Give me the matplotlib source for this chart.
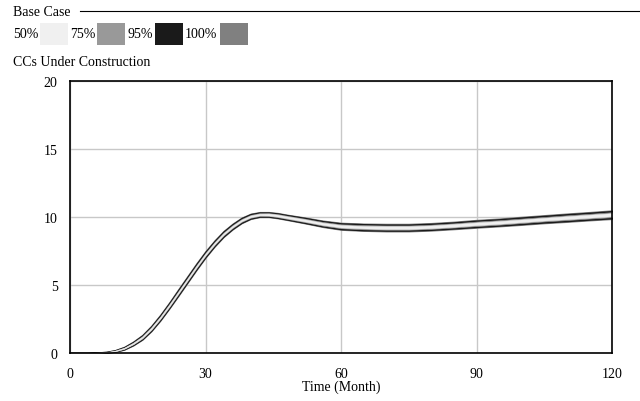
import matplotlib
matplotlib.use("Agg")
import matplotlib.pyplot as plt
from matplotlib.patches import Rectangle
from matplotlib.lines import Line2D

plt.rcParams['font.family'] = ['Liberation Serif', 'DejaVu Serif']

# Sensitivity run: CCs Under Construction, confidence bands
months = [0, 4, 8, 10, 12, 14, 16, 18, 20, 22, 24, 26, 28, 30, 32, 34, 36, 38, 40,
          42, 44, 46, 48, 52, 56, 60, 65, 70, 75, 80, 85, 90, 95, 100, 105, 110, 115, 120]

lo100 = [0, 0, 0.03, 0.08, 0.24, 0.55, 0.97, 1.59, 2.37, 3.26, 4.19, 5.14, 6.09, 7.00, 7.81,
         8.52, 9.08, 9.54, 9.85, 9.99, 9.99, 9.90, 9.78, 9.53, 9.26, 9.06, 8.98, 8.94, 8.94,
         9.00, 9.10, 9.21, 9.31, 9.42, 9.54, 9.64, 9.75, 9.85]
hi100 = [0, 0, 0.09, 0.22, 0.46, 0.85, 1.33, 2.01, 2.83, 3.74, 4.71, 5.66, 6.61, 7.50, 8.29,
         8.98, 9.52, 9.96, 10.25, 10.37, 10.37, 10.30, 10.18, 9.97, 9.74, 9.58, 9.52, 9.50,
         9.50, 9.56, 9.66, 9.79, 9.89, 10.02, 10.14, 10.26, 10.37, 10.49]
lo95 = [0, 0, 0.03, 0.10, 0.27, 0.59, 1.01, 1.64, 2.43, 3.32, 4.26, 5.21, 6.16, 7.06, 7.87,
        8.57, 9.13, 9.58, 9.89, 10.03, 10.03, 9.94, 9.82, 9.57, 9.31, 9.11, 9.03, 9.00, 9.00,
        9.06, 9.16, 9.27, 9.37, 9.48, 9.60, 9.70, 9.81, 9.91]
hi95 = [0, 0, 0.08, 0.20, 0.43, 0.81, 1.29, 1.96, 2.77, 3.68, 4.64, 5.59, 6.54, 7.44, 8.23,
        8.93, 9.47, 9.92, 10.21, 10.33, 10.33, 10.26, 10.14, 9.93, 9.69, 9.53, 9.47, 9.44,
        9.44, 9.50, 9.60, 9.73, 9.83, 9.96, 10.08, 10.20, 10.31, 10.43]
lo75 = [0, 0, 0.04, 0.12, 0.31, 0.64, 1.07, 1.71, 2.51, 3.40, 4.35, 5.30, 6.25, 7.15, 7.95,
        8.65, 9.20, 9.65, 9.95, 10.08, 10.08, 9.99, 9.87, 9.63, 9.37, 9.18, 9.10, 9.07, 9.07,
        9.13, 9.23, 9.34, 9.44, 9.56, 9.68, 9.78, 9.89, 9.99]
hi75 = [0, 0, 0.06, 0.18, 0.39, 0.76, 1.23, 1.89, 2.69, 3.60, 4.55, 5.50, 6.45, 7.35, 8.15,
        8.85, 9.40, 9.85, 10.15, 10.28, 10.28, 10.21, 10.09, 9.87, 9.63, 9.46, 9.40, 9.37,
        9.37, 9.43, 9.53, 9.66, 9.76, 9.88, 10.00, 10.12, 10.23, 10.35]
lo50 = [0, 0, 0.04, 0.13, 0.32, 0.66, 1.10, 1.74, 2.54, 3.44, 4.39, 5.34, 6.29, 7.19, 7.99,
        8.69, 9.24, 9.69, 9.99, 10.12, 10.11, 10.03, 9.91, 9.67, 9.42, 9.23, 9.16, 9.12, 9.12,
        9.18, 9.28, 9.40, 9.50, 9.62, 9.74, 9.84, 9.95, 10.06]
hi50 = [0, 0, 0.06, 0.17, 0.38, 0.74, 1.20, 1.86, 2.66, 3.56, 4.51, 5.46, 6.41, 7.31, 8.11,
        8.81, 9.36, 9.81, 10.11, 10.24, 10.25, 10.17, 10.05, 9.83, 9.58, 9.41, 9.34, 9.32,
        9.32, 9.38, 9.48, 9.60, 9.70, 9.82, 9.94, 10.06, 10.17, 10.28]

band_labels = ['50%', '75%', '95%', '100%']
band_colors = ['#f0f0f0', '#999999', '#1a1a1a', '#808080']

fig = plt.figure(figsize=(6.4, 4.02), dpi=100)
ax = fig.add_axes([70 / 640, 1 - 354 / 402, 542 / 640, 272 / 402])

bands = [(lo100, hi100), (lo95, hi95), (lo75, hi75), (lo50, hi50)]
edge_w = [0.8, 1.0, 0.5, 0.3]
for (lo, hi), col, w in zip(bands, band_colors[::-1], edge_w):
    ax.fill_between(months, lo, hi, color=col, lw=w, edgecolor=col)

ax.set_xlim(0, 120)
ax.set_ylim(0, 20)
ax.set_xticks([0, 30, 60, 90, 120])
ax.set_yticks([0, 5, 10, 15, 20])
ax.grid(True, color='#c8c8c8', lw=1)
ax.set_axisbelow(True)
for s in ax.spines.values():
    s.set_linewidth(1.2)
    s.set_color('black')
ax.tick_params(length=0, labelsize=10, pad=10)
ax.tick_params(axis='y', pad=9)
ax.set_xlabel("Time (Month)", fontsize=10, labelpad=0)

# header block
fig.text(13 / 640, 1 - 13 / 402, "Base Case", fontsize=10, va='center', ha='left')
fig.add_artist(Line2D([80 / 640, 1], [1 - 12 / 402, 1 - 12 / 402], color='black', lw=0.8))
text_x = [13, 70, 127, 185]
sw_x = [40, 97, 155, 220]
for lab, col, tx, sx in zip(band_labels, band_colors, text_x, sw_x):
    fig.text(tx / 640, 1 - 35 / 402, lab, fontsize=10, va='center', ha='left')
    fig.add_artist(Rectangle((sx / 640, 1 - 46 / 402), 28 / 640, 22 / 402,
                             facecolor=col, edgecolor='none', transform=fig.transFigure))
fig.text(13 / 640, 1 - 62 / 402, "CCs Under Construction", fontsize=10, va='center', ha='left')

fig.savefig("out.png", dpi=100)
